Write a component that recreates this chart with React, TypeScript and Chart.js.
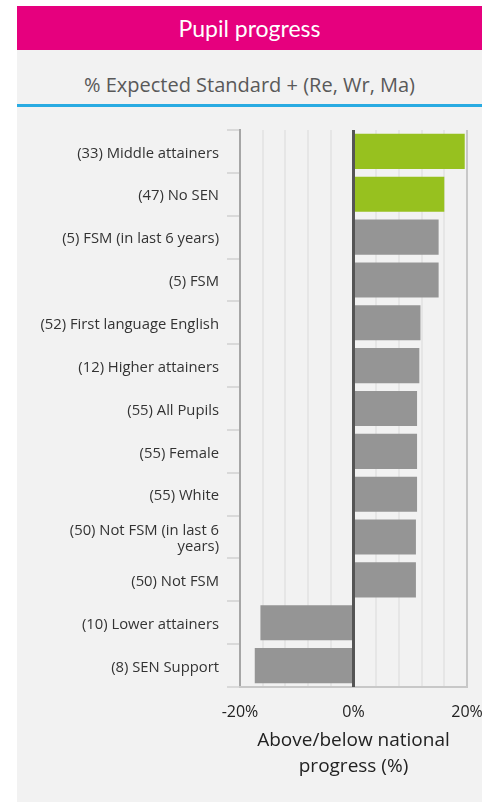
import React, { useEffect, useRef } from "react";
import { Chart, registerables } from "chart.js";

Chart.register(...registerables);

const categories: (string | string[])[] = [
  "(33) Middle attainers",
  "(47) No SEN",
  "(5) FSM (in last 6 years)",
  "(5) FSM",
  "(52) First language English",
  "(12) Higher attainers",
  "(55) All Pupils",
  "(55) Female",
  "(55) White",
  ["(50) Not FSM (in last 6", "years)"],
  "(50) Not FSM",
  "(10) Lower attainers",
  "(8) SEN Support",
];

const values = [19.6, 16.0, 15.0, 15.0, 11.8, 11.6, 11.2, 11.2, 11.2, 11.0, 11.0, -16.4, -17.4];

const highlighted = [true, true, false, false, false, false, false, false, false, false, false, false, false];

const xTickLabels = [-20, 0, 20];

const FONT = "'Open Sans', 'Noto Sans', sans-serif";
const HEAD_FONT = "Lato, 'Open Sans', sans-serif";

export default function App() {
  const canvasRef = useRef<HTMLCanvasElement | null>(null);

  useEffect(() => {
    const canvas = canvasRef.current;
    if (!canvas) return;

    const zeroLine = {
      id: "zeroLine",
      afterDatasetsDraw(chart: any) {
        const { ctx, chartArea, scales } = chart;
        const x = scales.x.getPixelForValue(0);
        ctx.save();
        ctx.strokeStyle = "#555555";
        ctx.lineWidth = 3;
        ctx.beginPath();
        ctx.moveTo(x, chartArea.top);
        ctx.lineTo(x, chartArea.bottom);
        ctx.stroke();
        ctx.restore();
      },
    };

    const chart = new Chart(canvas, {
      type: "bar",
      data: {
        labels: categories,
        datasets: [
          {
            data: values,
            backgroundColor: highlighted.map((h) => (h ? "#97c11f" : "#959595")),
            borderWidth: 0,
            barPercentage: 0.82,
            categoryPercentage: 1,
          },
        ],
      },
      options: {
        indexAxis: "y",
        animation: false,
        responsive: false,
        maintainAspectRatio: false,
        layout: { padding: { top: 23, right: 15, bottom: 0, left: 0 } },
        plugins: {
          legend: { display: false },
          tooltip: { enabled: false },
        },
        scales: {
          y: {
            type: "category",
            afterFit: (scale: any) => {
              scale.width = 223;
              scale.paddingTop = 0;
              scale.paddingBottom = 0;
            },
            grid: {
              drawOnChartArea: false,
              drawTicks: true,
              tickLength: 13,
              color: "#d9d9d9",
              lineWidth: 2,
              offset: true,
            },
            border: { display: true, color: "#a6a6a6", width: 2 },
            ticks: {
              color: "#333333",
              padding: 8,
              labelOffset: 2,
              font: { family: FONT, size: 14.8, lineHeight: 1.1 },
              autoSkip: false,
            },
          },
          x: {
            type: "linear",
            min: -20,
            max: 20,
            afterFit: (scale: any) => {
              scale.height = 113;
              scale.paddingLeft = 0;
              scale.paddingRight = 0;
            },
            ticks: {
              stepSize: 4,
              autoSkip: false,
              maxRotation: 0,
              padding: 16,
              color: "#222222",
              font: { family: FONT, size: 16 },
              callback: (v: any) => (xTickLabels.includes(Number(v)) ? v + "%" : ""),
            },
            grid: {
              drawTicks: false,
              color: (ctx: any) => {
                const v = ctx.tick ? ctx.tick.value : null;
                if (v === 0) return "#555555";
                if (v === 20) return "#c8c8c8";
                return "#e6e6e6";
              },
              lineWidth: 2,
            },
            border: { display: true, color: "#c8c8c8", width: 2 },
            title: {
              display: true,
              text: ["Above/below national", "progress (%)"],
              color: "#222222",
              font: { family: FONT, size: 19, lineHeight: 1.37 },
              padding: { top: 0, bottom: 20 },
            },
          },
        },
      },
      plugins: [zeroLine],
    });

    return () => chart.destroy();
  }, []);

  return (
    <div style={{ position: "absolute", left: 0, top: 0, width: 496, height: 802, background: "#ffffff" }}>
      <div
        style={{
          position: "absolute",
          left: 17,
          top: 6,
          width: 465,
          height: 796,
          background: "#f2f2f2",
        }}
      />
      <div
        style={{
          position: "absolute",
          left: 17,
          top: 6,
          width: 465,
          height: 44,
          background: "#e6007e",
          color: "#ffffff",
          fontFamily: HEAD_FONT,
          fontSize: 23,
          lineHeight: "44px",
          textAlign: "center",
        }}
      >
        Pupil progress
      </div>
      <div
        style={{
          position: "absolute",
          left: 17,
          top: 73,
          width: 465,
          height: 24,
          color: "#595959",
          fontFamily: FONT,
          fontSize: 20,
          lineHeight: "24px",
          textAlign: "center",
        }}
      >
        % Expected Standard + (Re, Wr, Ma)
      </div>
      <div
        style={{
          position: "absolute",
          left: 17,
          top: 104,
          width: 465,
          height: 3,
          background: "#29abe2",
        }}
      />
      <canvas
        ref={canvasRef}
        width={465}
        height={693}
        style={{ position: "absolute", left: 17, top: 107, width: 465, height: 693 }}
      />
    </div>
  );
}
